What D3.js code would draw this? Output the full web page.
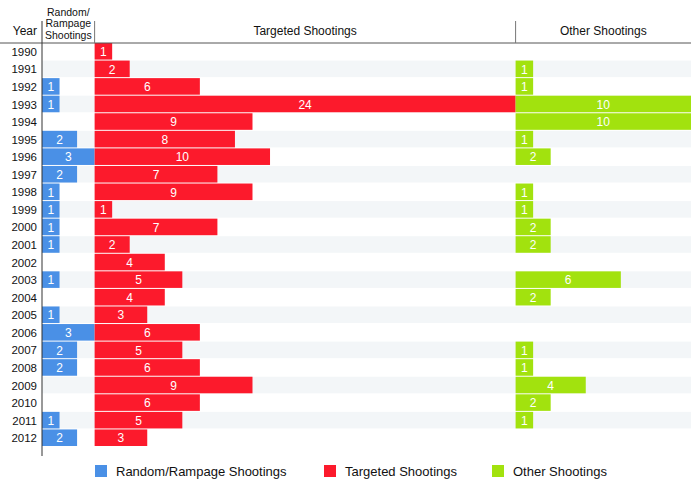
<!DOCTYPE html>
<html><head><meta charset="utf-8">
<script src="https://cdn.jsdelivr.net/npm/d3@7"></script>
<style>body{margin:0;background:#fff}svg{display:block;font-family:"Liberation Sans",Arial,Helvetica,sans-serif}</style>
</head><body><svg id="c" width="700" height="492"></svg>
<script>
const years = [1990,1991,1992,1993,1994,1995,1996,1997,1998,1999,2000,2001,2002,2003,2004,2005,2006,2007,2008,2009,2010,2011,2012];
const randomShootings =   [0,0,1,1,0,2,3,2,1,1,1,1,0,1,0,1,3,2,2,0,0,1,2];
const targetedShootings = [1,2,6,24,9,8,10,7,9,1,7,2,4,5,4,3,6,5,6,9,6,5,3];
const otherShootings =    [0,1,1,10,10,1,2,0,1,1,2,2,0,6,2,0,0,1,1,4,2,1,0];
const seriesNames = ["Random/Rampage Shootings","Targeted Shootings","Other Shootings"];
const colors = ["#4a90e6","#fc1a2c","#a2e20e"];

const svg = d3.select("#c");
const plotLeft = 42, plotRight = 691, plotTop = 43, plotBottom = 447;
const unit = (plotRight-plotLeft)/37;
const panels = [
  {data: randomShootings, max: 3},
  {data: targetedShootings, max: 24},
  {data: otherShootings, max: 10}
];
let xCursor = plotLeft;
panels.forEach(p => { p.x0 = xCursor; p.x1 = xCursor + p.max*unit; xCursor = p.x1;
  p.scale = d3.scaleLinear().domain([0,p.max]).range([p.x0,p.x1]); });

const yScale = d3.scaleBand().domain(years).range([plotTop,plotBottom]);

// stripes
svg.append("g").selectAll("rect").data(years.filter((d,i)=>i%2===1)).join("rect")
  .attr("x",plotLeft).attr("width",plotRight-plotLeft).attr("y",d=>yScale(d)).attr("height",yScale.bandwidth()-1)
  .attr("fill","#f3f6f8");

// bars
panels.forEach((p,pi)=>{
  const g = svg.append("g");
  const rows = years.map((yr,i)=>({yr,v:p.data[i]})).filter(d=>d.v>0);
  g.selectAll("rect").data(rows).join("rect")
    .attr("x",p.x0).attr("y",d=>yScale(d.yr)).attr("width",d=>p.scale(d.v)-p.x0)
    .attr("height",yScale.bandwidth()-1).attr("fill",colors[pi]);
  g.selectAll("text").data(rows).join("text")
    .attr("x",d=>(p.x0+p.scale(d.v))/2).attr("y",d=>yScale(d.yr)+yScale.bandwidth()/2)
    .attr("dy","0.35em").attr("text-anchor","middle").attr("fill","#fff")
    .attr("font-size",12).text(d=>d.v);
});

// year labels
svg.append("g").selectAll("text").data(years).join("text")
  .attr("x",37).attr("y",d=>yScale(d)+yScale.bandwidth()/2).attr("dy","0.35em")
  .attr("text-anchor","end").attr("font-size",11.5).attr("fill","#111").text(d=>d);

// header
svg.append("line").attr("x1",0).attr("x2",plotRight).attr("y1",plotTop).attr("y2",plotTop).attr("stroke","#555").attr("stroke-width",1);
svg.append("line").attr("x1",plotLeft).attr("x2",plotLeft).attr("y1",21).attr("y2",456).attr("stroke","#333").attr("stroke-width",1);
[panels[1].x0, panels[2].x0].forEach(xv=>{
  svg.append("line").attr("x1",xv).attr("x2",xv).attr("y1",21).attr("y2",plotTop).attr("stroke","#777").attr("stroke-width",1);
});
svg.append("text").attr("x",37).attr("y",35).attr("text-anchor","end").attr("font-size",12).attr("fill","#111").text("Year");
const rt = svg.append("text").attr("text-anchor","middle").attr("font-size",10.5).attr("fill","#111");
["Random/","Rampage","Shootings"].forEach((t,i)=>rt.append("tspan").attr("x",(panels[0].x0+panels[0].x1)/2).attr("y",16+i*11.3).text(t));
svg.append("text").attr("x",(panels[1].x0+panels[1].x1)/2).attr("y",35).attr("text-anchor","middle").attr("font-size",12).attr("fill","#111").text(seriesNames[1]);
svg.append("text").attr("x",(panels[2].x0+panels[2].x1)/2).attr("y",35).attr("text-anchor","middle").attr("font-size",12).attr("fill","#111").text(seriesNames[2]);

// legend
const legX = [95,324,492];
const lg = svg.append("g");
seriesNames.forEach((n,i)=>{
  lg.append("rect").attr("x",legX[i]).attr("y",465).attr("width",12).attr("height",12).attr("fill",colors[i]);
  lg.append("text").attr("x",legX[i]+21).attr("y",471).attr("dy","0.35em").attr("font-size",13).attr("fill","#111").text(n);
});
</script></body></html>
